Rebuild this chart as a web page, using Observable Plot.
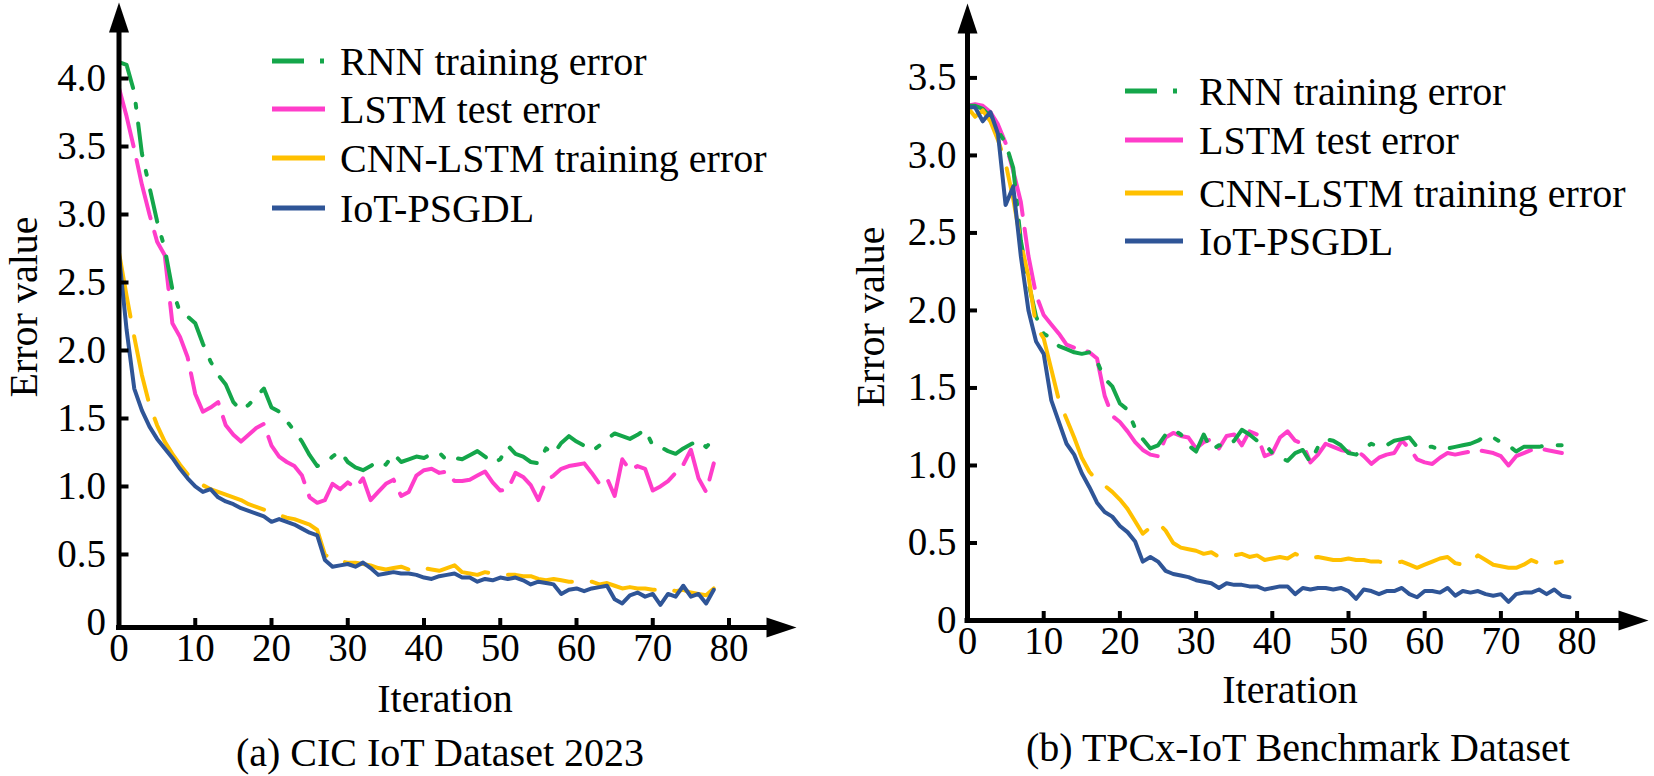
<!DOCTYPE html>
<html><head><meta charset="utf-8">
<script src="https://cdn.jsdelivr.net/npm/d3@7"></script>
<script src="https://cdn.jsdelivr.net/npm/@observablehq/plot@0.6"></script>
<style>
body{margin:0;background:#fff;}
#wrap{position:relative;width:1654px;height:776px;overflow:hidden;background:#fff;font-family:"Liberation Serif","DejaVu Serif",serif;}
#left,#right,#overlay{position:absolute;top:0;}
#left{left:0;} #right{left:827px;} #overlay{left:0;}
svg text{font-family:"Liberation Serif","DejaVu Serif",serif !important;}
</style></head><body>
<div id="wrap"><div id="left"></div><div id="right"></div><svg id="overlay" width="1654" height="776"></svg></div>
<script>
// ---------- data ----------
const seriesNames = ["RNN training error", "LSTM test error", "CNN-LSTM training error", "IoT-PSGDL"];
const seriesColors = ["#14a64a", "#ff3dca", "#ffc000", "#2f5597"];
const seriesDash = ["32,16,4,16", "60,14", "65,20", null];
const xTicks = [0, 10, 20, 30, 40, 50, 60, 70, 80];
const yTicksA = [0, 0.5, 1.0, 1.5, 2.0, 2.5, 3.0, 3.5, 4.0];
const yTicksB = [0, 0.5, 1.0, 1.5, 2.0, 2.5, 3.0, 3.5];
const captionA = "(a) CIC IoT Dataset 2023";
const captionB = "(b) TPCx-IoT Benchmark Dataset";
const xTitle = "Iteration";
const yTitle = "Error value";

// (a) CIC IoT Dataset 2023, iterations 0..78
const rnnA = [4.12,4.10,3.90,3.45,3.20,2.95,2.75,2.45,2.28,2.25,2.20,2.05,1.92,1.82,1.75,1.62,1.56,1.60,1.66,1.72,
  1.58,1.55,1.48,1.41,1.33,1.23,1.15,1.17,1.22,1.26,1.18,1.14,1.12,1.15,1.19,1.16,1.24,1.18,1.20,1.22,
  1.21,1.24,1.25,1.19,1.21,1.20,1.23,1.26,1.22,1.17,1.20,1.30,1.24,1.22,1.18,1.17,1.28,1.24,1.32,1.37,
  1.33,1.30,1.26,1.30,1.35,1.39,1.37,1.35,1.38,1.42,1.30,1.29,1.26,1.24,1.28,1.31,1.34,1.29,1.35];
const lstmA = [3.93,3.72,3.48,3.22,3.00,2.80,2.70,2.20,2.10,1.95,1.68,1.55,1.58,1.62,1.45,1.38,1.33,1.38,1.43,1.46,
  1.30,1.22,1.18,1.15,1.08,0.92,0.88,0.90,1.02,0.98,1.03,0.99,1.06,0.90,0.96,1.02,1.05,0.93,0.96,1.08,
  1.12,1.13,1.10,1.11,1.04,1.04,1.05,1.08,1.11,1.03,0.97,0.98,1.10,1.07,1.01,0.90,1.04,1.08,1.13,1.15,
  1.16,1.17,1.10,1.02,1.06,0.93,1.20,1.12,1.15,1.13,0.97,1.00,1.04,1.10,1.16,1.27,1.06,0.96,1.17];
const cnnA = [2.72,2.40,2.10,1.82,1.60,1.45,1.33,1.24,1.16,1.09,1.04,1.01,0.98,0.96,0.94,0.92,0.90,0.87,0.85,0.83,
  0.81,0.79,0.77,0.76,0.74,0.72,0.68,0.50,0.46,0.45,0.44,0.44,0.43,0.42,0.40,0.39,0.40,0.41,0.39,0.38,
  0.40,0.39,0.38,0.40,0.42,0.37,0.36,0.35,0.37,0.36,0.36,0.35,0.35,0.34,0.34,0.32,0.31,0.32,0.31,0.30,
  0.30,0.29,0.30,0.28,0.29,0.27,0.25,0.26,0.25,0.25,0.24,0.24,0.25,0.23,0.24,0.22,0.21,0.20,0.25];
const iotA = [2.70,2.15,1.72,1.56,1.44,1.35,1.28,1.21,1.13,1.06,1.00,0.96,0.98,0.92,0.89,0.87,0.84,0.82,0.80,0.78,
  0.74,0.76,0.74,0.72,0.69,0.66,0.64,0.46,0.41,0.42,0.43,0.41,0.44,0.40,0.35,0.36,0.37,0.36,0.36,0.35,
  0.33,0.32,0.34,0.35,0.36,0.33,0.33,0.30,0.32,0.31,0.33,0.32,0.33,0.31,0.28,0.30,0.29,0.28,0.21,0.24,
  0.25,0.23,0.25,0.26,0.27,0.17,0.14,0.20,0.22,0.19,0.21,0.13,0.21,0.19,0.27,0.19,0.21,0.14,0.24];

// (b) TPCx-IoT Benchmark Dataset, iterations 0..78 (IoT-PSGDL to 79)
const rnnB = [3.32,3.32,3.30,3.25,3.16,3.08,2.92,2.45,2.18,1.96,1.85,1.82,1.77,1.75,1.73,1.72,1.73,1.67,1.56,1.51,
  1.40,1.36,1.24,1.17,1.11,1.13,1.20,1.23,1.20,1.13,1.09,1.20,1.10,1.13,1.12,1.16,1.23,1.20,1.16,1.14,
  1.08,1.05,1.03,1.08,1.10,1.02,1.12,1.17,1.16,1.13,1.08,1.07,1.11,1.14,1.12,1.13,1.16,1.17,1.18,1.12,
  1.12,1.12,1.10,1.11,1.12,1.13,1.14,1.16,1.19,1.18,1.15,1.13,1.09,1.12,1.12,1.12,1.13,1.13,1.13];
const lstmB = [3.32,3.33,3.32,3.28,3.20,3.08,2.90,2.70,2.35,2.10,1.97,1.91,1.85,1.78,1.76,1.75,1.73,1.69,1.45,1.32,
  1.28,1.22,1.15,1.10,1.07,1.06,1.18,1.21,1.19,1.18,1.11,1.15,1.17,1.11,1.19,1.20,1.13,1.22,1.20,1.06,
  1.08,1.18,1.22,1.16,1.14,1.02,1.07,1.14,1.12,1.10,1.09,1.10,1.06,1.01,1.05,1.07,1.08,1.16,1.11,1.04,
  1.02,1.01,1.05,1.08,1.07,1.08,1.09,1.10,1.09,1.08,1.06,1.00,1.06,1.08,1.10,1.11,1.10,1.09,1.08];
const cnnB = [3.31,3.25,3.29,3.22,3.10,2.95,2.72,2.44,2.22,1.90,1.82,1.62,1.42,1.30,1.18,1.05,0.96,0.90,0.87,0.83,
  0.78,0.72,0.64,0.56,0.60,0.63,0.58,0.50,0.47,0.46,0.45,0.43,0.44,0.41,0.42,0.42,0.43,0.41,0.42,0.39,
  0.40,0.41,0.40,0.43,0.41,0.40,0.41,0.40,0.39,0.39,0.40,0.39,0.39,0.38,0.38,0.37,0.37,0.38,0.36,0.34,
  0.36,0.38,0.40,0.41,0.37,0.36,0.38,0.42,0.39,0.36,0.35,0.34,0.34,0.36,0.39,0.37,0.38,0.37,0.38];
const iotB = [3.31,3.31,3.22,3.28,3.14,2.68,2.80,2.35,2.00,1.80,1.72,1.42,1.28,1.14,1.07,0.95,0.86,0.76,0.70,0.67,
  0.61,0.57,0.51,0.38,0.41,0.38,0.32,0.30,0.29,0.28,0.26,0.25,0.24,0.21,0.24,0.23,0.23,0.22,0.22,0.20,
  0.21,0.22,0.22,0.17,0.21,0.20,0.21,0.21,0.20,0.21,0.19,0.14,0.20,0.19,0.17,0.19,0.19,0.21,0.17,0.15,
  0.19,0.19,0.18,0.21,0.16,0.19,0.18,0.19,0.17,0.16,0.17,0.12,0.17,0.18,0.18,0.20,0.17,0.20,0.16,0.15];

// ---------- drawing ----------
const FONT = '"Liberation Serif", "DejaVu Serif", serif';

const arrowHead = {
  draw(ctx, size) {
    const r = Math.sqrt(size / Math.PI);
    ctx.moveTo(0, 0);
    ctx.lineTo(-r / 3, r);
    ctx.lineTo(r / 3, r);
    ctx.closePath();
  }
};

function rows(values) {
  return values.map((v, i) => ({iter: i, value: v}));
}

function panel(cfg) {
  const sets = [cfg.lstm, cfg.rnn, cfg.cnn, cfg.iot];
  const idx = [1, 0, 2, 3];
  const lineMarks = sets.map((vals, k) => Plot.line(rows(vals), {
    x: "iter", y: "value",
    stroke: seriesColors[idx[k]],
    strokeWidth: 4,
    strokeDasharray: seriesDash[idx[k]],
    strokeLinejoin: "round"
  }));
  const [xmin, xmax] = cfg.xDomain;
  const [ymin, ymax] = cfg.yDomain;
  return Plot.plot({
    width: 827, height: 776,
    marginLeft: cfg.marginLeft, marginRight: cfg.marginRight,
    marginTop: cfg.marginTop, marginBottom: cfg.marginBottom,
    x: {domain: cfg.xDomain},
    y: {domain: cfg.yDomain},
    style: {fontFamily: FONT, fontSize: "39px", color: "#000", background: "transparent", overflow: "visible"},
    marks: [
      ...lineMarks,
      Plot.ruleX([xmin], {y1: ymin, y2: ymax - cfg.yArrowBack, stroke: "#000", strokeWidth: 5}),
      Plot.ruleY([ymin], {x1: xmin, x2: xmax - cfg.xArrowBack, stroke: "#000", strokeWidth: 5, insetLeft: -2.5}),
      Plot.dot([{x: xmin, y: ymax}], {x: "x", y: "y", symbol: arrowHead, r: 30, fill: "#000", stroke: "none"}),
      Plot.dot([{x: xmax, y: ymin}], {x: "x", y: "y", symbol: arrowHead, r: 30, fill: "#000", stroke: "none", rotate: 90}),
      Plot.axisY({ticks: cfg.yTicks.filter(d => d > 0), tickSize: -10, strokeWidth: 4, tickFormat: () => "", label: null}),
      Plot.axisY({ticks: cfg.yTicks, tickSize: 0, tickPadding: cfg.yPad, fontSize: 39,
        tickFormat: d => d === 0 ? "0" : d.toFixed(1), label: null}),
      Plot.axisX({ticks: xTicks, tickSize: -9, strokeWidth: 4, tickPadding: 14.3, fontSize: 39,
        tickFormat: d => String(d), label: null})
    ]
  });
}

document.getElementById("left").appendChild(panel({
  rnn: rnnA, lstm: lstmA, cnn: cnnA, iot: iotA,
  marginLeft: 118.5, marginRight: 31, marginTop: 2, marginBottom: 149,
  xDomain: [0, 88.85], yDomain: [-0.037, 4.559],
  yTicks: yTicksA, yPad: 13, xArrowBack: 1.5, yArrowBack: 0.1
}));
document.getElementById("right").appendChild(panel({
  rnn: rnnB, lstm: lstmB, cnn: cnnB, iot: iotB,
  marginLeft: 140, marginRight: 6, marginTop: 3, marginBottom: 156,
  xDomain: [0, 89.37], yDomain: [0, 3.98],
  yTicks: yTicksB, yPad: 11, xArrowBack: 1.5, yArrowBack: 0.1
}));

// ---------- overlay texts & legends ----------
const ov = d3.select("#overlay").attr("font-family", FONT);
function label(x, y, txt, rotate) {
  const t = ov.append("text").attr("font-size", 40).attr("fill", "#000").attr("text-anchor", "middle").text(txt);
  if (rotate) t.attr("transform", `translate(${x},${y}) rotate(-90)`);
  else t.attr("x", x).attr("y", y);
}
label(37, 307, yTitle, true);
label(884, 317, yTitle, true);
label(445, 712, xTitle);
label(1290, 703, xTitle);
label(440, 766, captionA);
label(1298, 761, captionB);

function legend(x0, x1, tx, ys) {
  seriesNames.forEach((name, i) => {
    ov.append("line").attr("x1", x0).attr("x2", x1).attr("y1", ys[i]).attr("y2", ys[i])
      .attr("stroke", seriesColors[i]).attr("stroke-width", 5)
      .attr("stroke-dasharray", seriesDash[i]);
    ov.append("text").attr("x", tx).attr("y", ys[i] + 14).attr("font-size", 40).attr("fill", "#000").text(name);
  });
}
legend(272, 325, 340, [61, 109, 158, 208]);
legend(1125, 1183, 1199, [91, 140, 193, 241]);
</script></body></html>
